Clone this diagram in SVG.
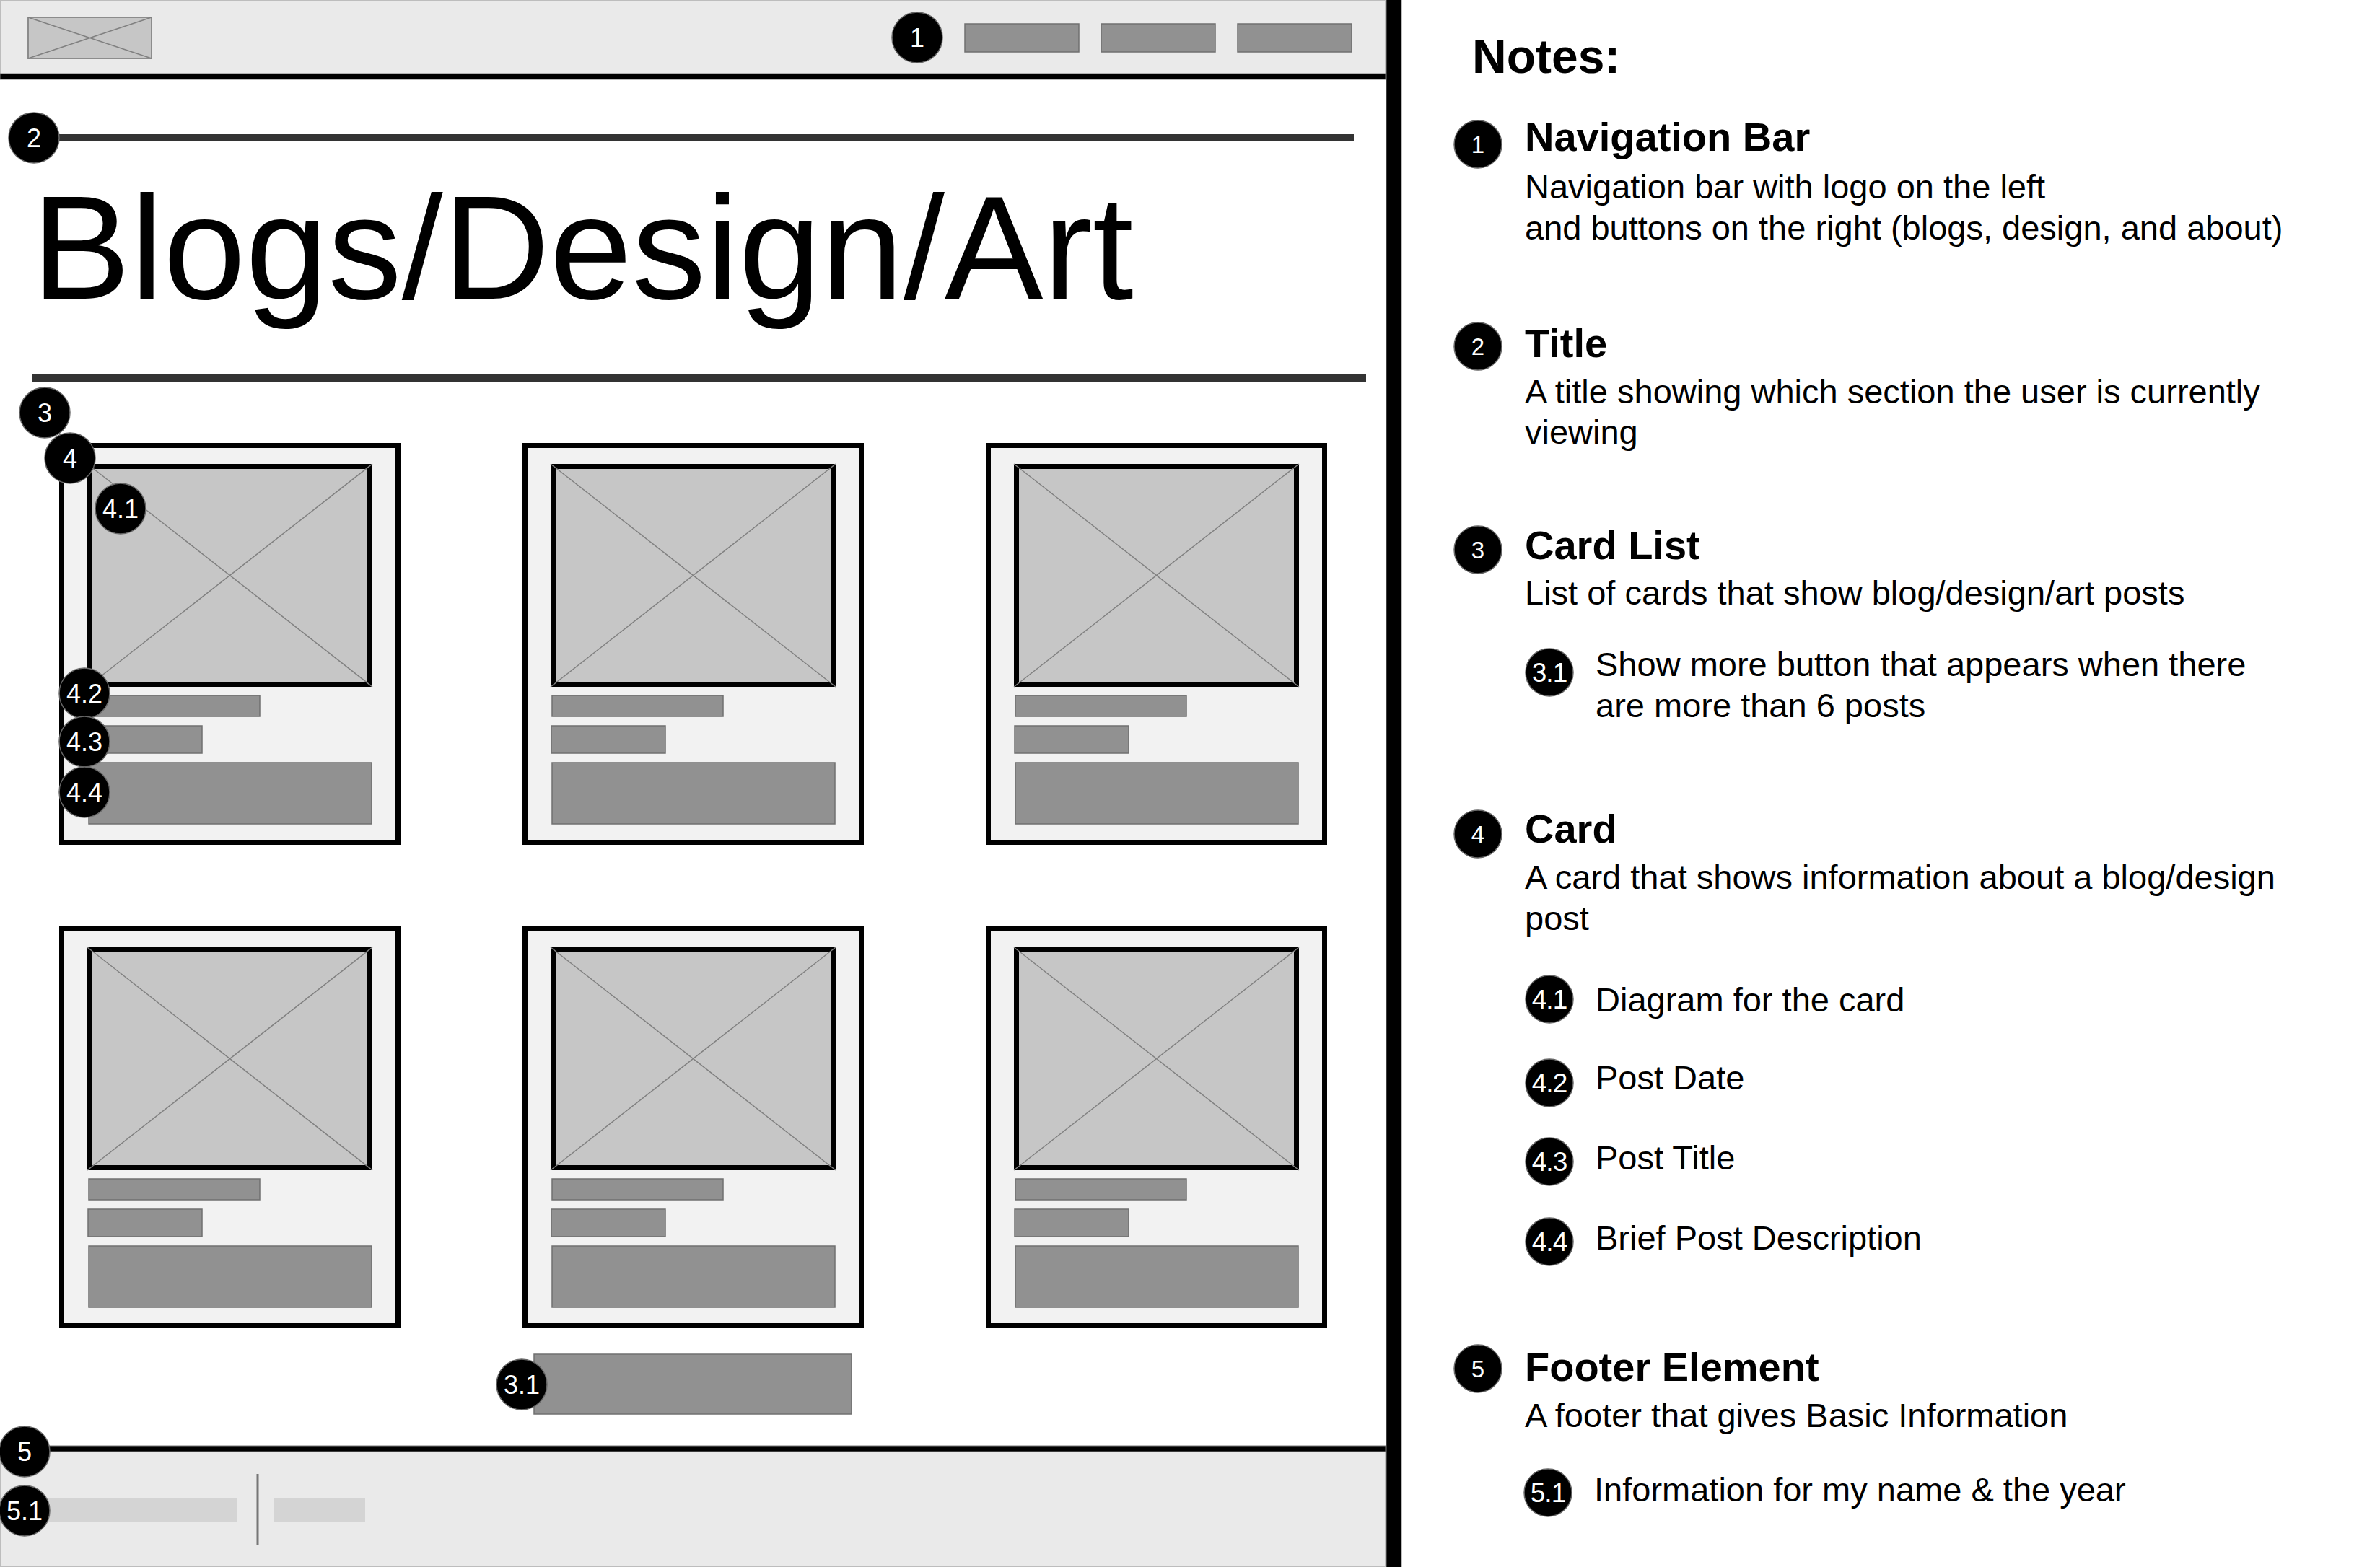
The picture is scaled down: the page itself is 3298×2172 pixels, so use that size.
<svg xmlns="http://www.w3.org/2000/svg" xmlns:xlink="http://www.w3.org/1999/xlink" width="3298" height="2172" viewBox="0 0 3298 2172">
  <style>
    text { font-family: "Liberation Sans", Arial, Helvetica, sans-serif; }
    .panel { fill: #eaeaea; stroke: #bdbdbd; stroke-width: 1.5; }
    .rule { fill: #000; stroke: #7a7a7a; stroke-width: 1; }
    .ph { fill: #c6c6c6; }
    .ph-frame { fill: none; stroke: #000; stroke-width: 7; }
    .ph-x { stroke: #808080; stroke-width: 1.5; fill: none; }
    .logo { fill: #c6c6c6; stroke: #8c8c8c; stroke-width: 2; }
    .bar { fill: #919191; stroke: #707070; stroke-width: 1.5; }
    .fbar { fill: #d4d4d4; }
    .card { fill: #f2f2f2; stroke: #000; stroke-width: 7; }
    .hr { fill: #333; }
    .badge { fill: #000; stroke: #666; stroke-width: 1.5; }
    .bt { fill: #fff; text-anchor: middle; }
    .big { font-size: 36px; }
    .nb { font-size: 33px; }
    .ns { font-size: 37px; letter-spacing: -1px; }
    .head { font-size: 56px; font-weight: bold; fill: #000; }
    .desc { font-size: 47px; fill: #000; }
  </style>

  <defs>
    <!-- one post card: frame, picture placeholder, date, title and summary bars -->
    <g id="card-tpl">
      <rect class="card" x="3.5" y="3.5" width="466" height="550"/>
      <rect class="ph" x="39" y="29" width="395" height="309"/>
      <rect class="ph-frame" x="42.5" y="32.5" width="388" height="302"/>
      <path class="ph-x" d="M39 29 L434 338 M434 29 L39 338"/>
      <rect class="bar" x="41" y="350" width="237" height="29"/>
      <rect class="bar" x="40" y="392" width="158" height="38"/>
      <rect class="bar" x="41" y="443" width="392" height="85"/>
    </g>
  </defs>

  <rect width="3298" height="2172" fill="#fff"/>

  <!-- top navigation -->
  <g id="nav">
    <rect class="panel" x="0.75" y="0.75" width="1919" height="102"/>
    <rect class="rule" x="0" y="102" width="1920" height="8"/>
    <rect class="logo" x="39" y="24" width="171" height="57"/>
    <path class="ph-x" d="M39 24 L210 81 M210 24 L39 81"/>
    <rect class="bar" x="1337" y="33" width="158" height="39"/>
    <rect class="bar" x="1526" y="33" width="158" height="39"/>
    <rect class="bar" x="1715" y="33" width="158" height="39"/>
  </g>

  <!-- page heading with rules above and below -->
  <g id="title">
    <rect class="hr" x="47" y="186" width="1829" height="10"/>
    <text x="44" y="414" font-size="205" fill="#000">Blogs/Design/Art</text>
    <rect class="hr" x="45" y="519" width="1848" height="10"/>
  </g>

  <!-- grid of post cards -->
  <g id="card-list">
    <use id="card-1" xlink:href="#card-tpl" transform="translate(82 614)"/>
    <use id="card-2" xlink:href="#card-tpl" transform="translate(724 614)"/>
    <use id="card-3" xlink:href="#card-tpl" transform="translate(1366 614)"/>
    <use id="card-4" xlink:href="#card-tpl" transform="translate(82 1284)"/>
    <use id="card-5" xlink:href="#card-tpl" transform="translate(724 1284)"/>
    <use id="card-6" xlink:href="#card-tpl" transform="translate(1366 1284)"/>
  </g>

  <g id="show-more">
    <rect class="bar" x="740" y="1877" width="440" height="83"/>
  </g>

  <!-- footer -->
  <g id="footer">
    <rect class="panel" x="0.75" y="2012" width="1919" height="159.25"/>
    <rect class="rule" x="0" y="2004" width="1920" height="8"/>
    <rect class="fbar" x="40" y="2076" width="289" height="34"/>
    <line x1="357" y1="2043" x2="357" y2="2142" stroke="#777" stroke-width="3"/>
    <rect class="fbar" x="380" y="2076" width="126" height="34"/>
  </g>

  <!-- divider between page and notes -->
  <rect id="divider" class="rule" x="1921" y="-2" width="21" height="2176"/>

  <!-- numbered markers on the page -->
  <g id="page-badges">
    <g id="pb-1"><circle class="badge" cx="1271" cy="52" r="35"/><text class="bt big" x="1271" y="65">1</text></g>
    <g id="pb-2"><circle class="badge" cx="47" cy="191" r="35"/><text class="bt big" x="47" y="204">2</text></g>
    <g id="pb-3"><circle class="badge" cx="62" cy="572" r="35"/><text class="bt big" x="62" y="585">3</text></g>
    <g id="pb-4"><circle class="badge" cx="97" cy="635" r="35"/><text class="bt big" x="97" y="648">4</text></g>
    <g id="pb-4-1"><circle class="badge" cx="167" cy="705" r="35"/><text class="bt big" x="167" y="718">4.1</text></g>
    <g id="pb-4-2"><circle class="badge" cx="117" cy="961" r="35"/><text class="bt big" x="117" y="974">4.2</text></g>
    <g id="pb-4-3"><circle class="badge" cx="117" cy="1028" r="35"/><text class="bt big" x="117" y="1041">4.3</text></g>
    <g id="pb-4-4"><circle class="badge" cx="117" cy="1098" r="35"/><text class="bt big" x="117" y="1111">4.4</text></g>
    <g id="pb-3-1"><circle class="badge" cx="723" cy="1919" r="35"/><text class="bt big" x="723" y="1932">3.1</text></g>
    <g id="pb-5"><circle class="badge" cx="34" cy="2012" r="35"/><text class="bt big" x="34" y="2025">5</text></g>
    <g id="pb-5-1"><circle class="badge" cx="34" cy="2094" r="35"/><text class="bt big" x="34" y="2107">5.1</text></g>
  </g>

  <!-- notes column -->
  <g id="notes">
    <text x="2040" y="101" font-size="66" font-weight="bold" fill="#000">Notes:</text>

    <g id="note-1">
      <circle class="badge" cx="2048" cy="200" r="33"/><text class="bt nb" x="2048" y="212">1</text>
      <text class="head" x="2113" y="209">Navigation Bar</text>
      <text class="desc" x="2113" y="275">Navigation bar with logo on the left</text>
      <text class="desc" x="2113" y="332">and buttons on the right (blogs, design, and about)</text>
    </g>

    <g id="note-2">
      <circle class="badge" cx="2048" cy="480" r="33"/><text class="bt nb" x="2048" y="492">2</text>
      <text class="head" x="2113" y="495">Title</text>
      <text class="desc" x="2113" y="559">A title showing which section the user is currently</text>
      <text class="desc" x="2113" y="615">viewing</text>
    </g>

    <g id="note-3">
      <circle class="badge" cx="2048" cy="762" r="33"/><text class="bt nb" x="2048" y="774">3</text>
      <text class="head" x="2113" y="775">Card List</text>
      <text class="desc" x="2113" y="838">List of cards that show blog/design/art posts</text>
    </g>

    <g id="note-3-1">
      <circle class="badge" cx="2147" cy="932" r="33"/><text class="bt ns" x="2147" y="945">3.1</text>
      <text class="desc" x="2211" y="937">Show more button that appears when there</text>
      <text class="desc" x="2211" y="994">are more than 6 posts</text>
    </g>

    <g id="note-4">
      <circle class="badge" cx="2048" cy="1156" r="33"/><text class="bt nb" x="2048" y="1168">4</text>
      <text class="head" x="2113" y="1168">Card</text>
      <text class="desc" x="2113" y="1232">A card that shows information about a blog/design</text>
      <text class="desc" x="2113" y="1289">post</text>
    </g>

    <g id="note-4-1">
      <circle class="badge" cx="2147" cy="1385" r="33"/><text class="bt ns" x="2147" y="1398">4.1</text>
      <text class="desc" x="2211" y="1402">Diagram for the card</text>
    </g>
    <g id="note-4-2">
      <circle class="badge" cx="2147" cy="1501" r="33"/><text class="bt ns" x="2147" y="1514">4.2</text>
      <text class="desc" x="2211" y="1510">Post Date</text>
    </g>
    <g id="note-4-3">
      <circle class="badge" cx="2147" cy="1610" r="33"/><text class="bt ns" x="2147" y="1623">4.3</text>
      <text class="desc" x="2211" y="1621">Post Title</text>
    </g>
    <g id="note-4-4">
      <circle class="badge" cx="2147" cy="1721" r="33"/><text class="bt ns" x="2147" y="1734">4.4</text>
      <text class="desc" x="2211" y="1732">Brief Post Description</text>
    </g>

    <g id="note-5">
      <circle class="badge" cx="2048" cy="1897" r="33"/><text class="bt nb" x="2048" y="1909">5</text>
      <text class="head" x="2113" y="1914">Footer Element</text>
      <text class="desc" x="2113" y="1978">A footer that gives Basic Information</text>
    </g>

    <g id="note-5-1">
      <circle class="badge" cx="2145" cy="2069" r="33"/><text class="bt ns" x="2145" y="2082">5.1</text>
      <text class="desc" x="2209" y="2081">Information for my name &amp; the year</text>
    </g>
  </g>
</svg>
